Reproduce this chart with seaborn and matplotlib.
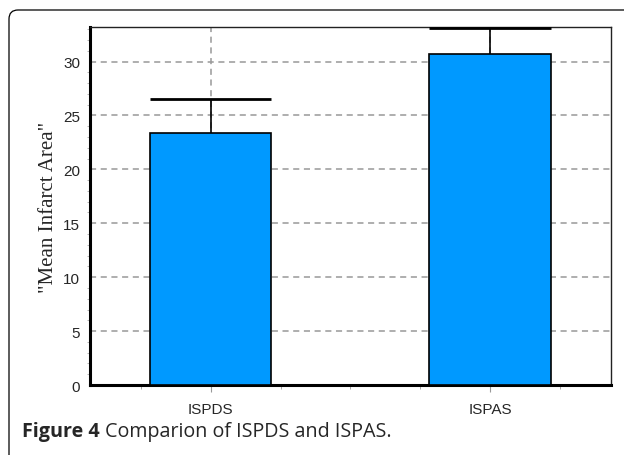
import numpy as np
import pandas as pd
import seaborn as sns
import matplotlib.pyplot as plt
from matplotlib.patches import FancyBboxPatch
from matplotlib.ticker import MultipleLocator, FixedLocator

# Data
groups = ["ISPDS", "ISPAS"]
means = [23.4, 30.7]
errors = [3.1, 2.4]

df = pd.DataFrame({"group": groups, "mean": means})

sns.set_style("white")
fig = plt.figure(figsize=(6.24, 4.56), dpi=100)
ax = fig.add_axes([0.144, 0.1535, 0.835, 0.785])

bar_w = 0.434
sns.barplot(data=df, x="group", y="mean", color="#0099FF", saturation=1,
            width=bar_w, edgecolor="black", linewidth=1.2, ax=ax, zorder=3)

# upward-only error bars with caps as wide as the bars
xs = np.arange(len(groups))
tops = np.array(means) + np.array(errors)
ax.vlines(xs, means, tops, color="black", linewidth=1.2, zorder=4)
ax.hlines(tops, xs - bar_w / 2, xs + bar_w / 2, color="black", linewidth=2.0, zorder=4)

ax.set_xlim(-0.433, 1.433)
ax.set_ylim(0, 33.2)
ax.yaxis.set_major_locator(MultipleLocator(5))
ax.yaxis.set_minor_locator(MultipleLocator(1))
ax.xaxis.set_minor_locator(FixedLocator([-0.25, 0.25, 0.5, 0.75, 1.25]))

ax.grid(True, which="major", axis="both", linestyle=(0, (4, 3)), color="#999999", linewidth=1.1, zorder=0)
ax.set_axisbelow(True)

ax.tick_params(axis="y", which="major", length=5, color="#999999", labelsize=11, pad=2)
ax.tick_params(axis="y", which="minor", left=True, length=2, color="#aaaaaa")
ax.tick_params(axis="x", which="major", bottom=True, length=5, color="#999999", labelsize=11, pad=7)
ax.tick_params(axis="x", which="minor", bottom=True, length=3, color="#999999")
for lab in ax.get_xticklabels() + ax.get_yticklabels():
    lab.set_family("Liberation Sans")

for side in ["left", "bottom"]:
    ax.spines[side].set_linewidth(2.2)
    ax.spines[side].set_color("black")
for side in ["top", "right"]:
    ax.spines[side].set_linewidth(1.0)
    ax.spines[side].set_color("#222222")

ax.set_xlabel("")
ax.set_ylabel('"Mean Infarct Area"', family="Liberation Serif", fontsize=15, labelpad=4)

# frame with rounded top-left corner
frame = FancyBboxPatch((0.09, -1.0), 7.0, 5.45, boxstyle="round,pad=0,rounding_size=0.09",
                       transform=fig.dpi_scale_trans, fill=False, edgecolor="black",
                       linewidth=0.9, clip_on=False)
fig.patches.append(frame)

# caption: bold "Figure 4" followed by normal text
cap_y = 1 - 437 / 456
t1 = fig.text(22 / 624, cap_y, "Figure 4", family="Open Sans", fontweight="bold",
              fontsize=14.2, va="baseline", ha="left")
fig.canvas.draw()
bb = t1.get_window_extent()
fig.text((bb.x1 + 5) / 624, cap_y, "Comparion of ISPDS and ISPAS.", family="Open Sans",
         fontsize=14.2, va="baseline", ha="left")

fig.savefig("out.png", dpi=100)
